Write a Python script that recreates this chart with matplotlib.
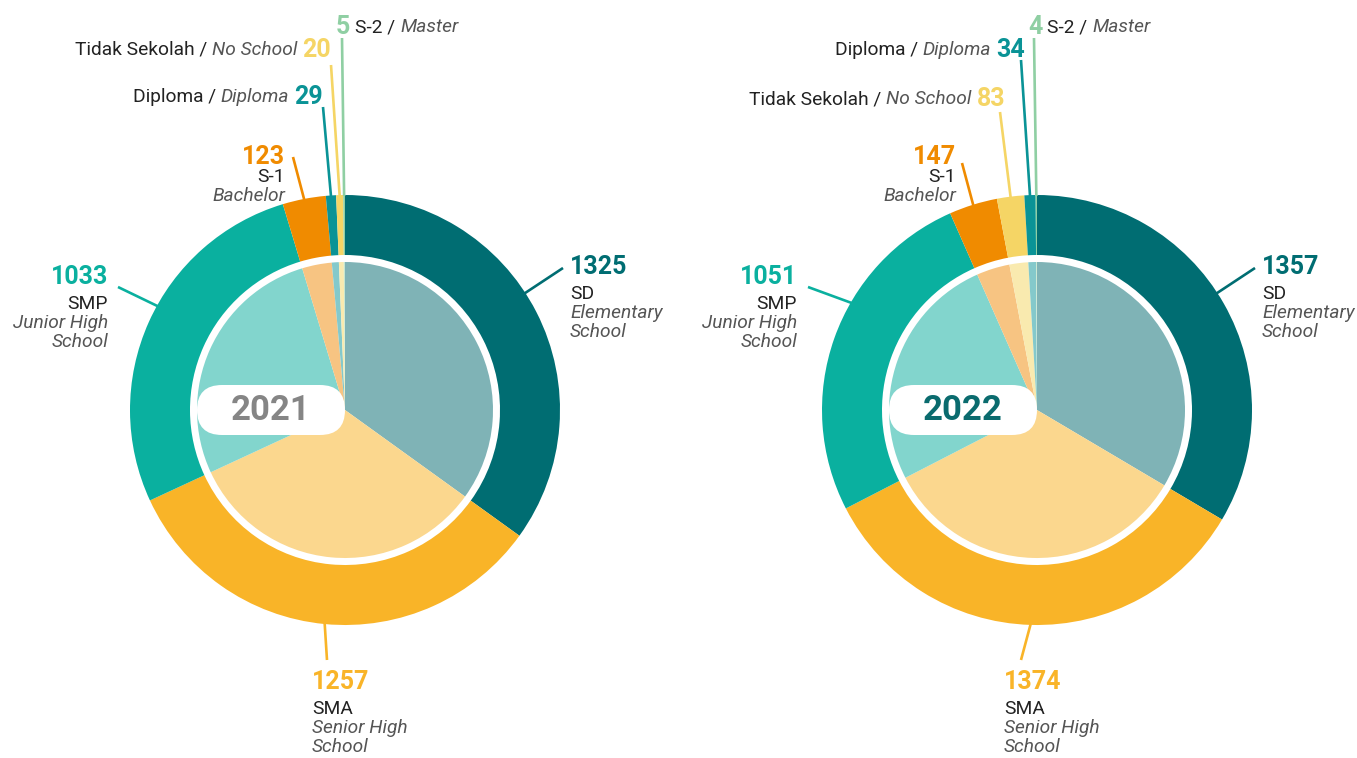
#
# Two donut charts: education level, 2021 vs 2022
#
import matplotlib.pyplot as plt
from matplotlib.patches import FancyBboxPatch
import numpy as np

plt.rcParams['font.family'] = ['Roboto', 'DejaVu Sans']

W, H = 1357, 758

# data (slice order clockwise from 12 o'clock)
cats_2021 = ['SD', 'SMA', 'SMP', 'S-1', 'Diploma', 'Tidak Sekolah', 'S-2']
vals_2021 = [1325, 1257, 1033, 123, 29, 20, 5]
cats_2022 = ['SD', 'SMA', 'SMP', 'S-1', 'Tidak Sekolah', 'Diploma', 'S-2']
vals_2022 = [1357, 1374, 1051, 147, 83, 34, 4]

english = {'SD': 'Elementary\nSchool', 'SMP': 'Junior High\nSchool',
           'SMA': 'Senior High\nSchool', 'S-1': 'Bachelor',
           'Diploma': 'Diploma', 'Tidak Sekolah': 'No School', 'S-2': 'Master'}

outer_col = {'SD': '#006d72', 'SMA': '#f9b428', 'SMP': '#0ab09f', 'S-1': '#f08b00',
             'Diploma': '#0a9396', 'Tidak Sekolah': '#f5d565', 'S-2': '#8fcfa3'}
inner_col = {'SD': '#7fb3b6', 'SMA': '#fbd78e', 'SMP': '#82d5cd', 'S-1': '#f7c482',
             'Diploma': '#84c9cb', 'Tidak Sekolah': '#f9eaaf', 'S-2': '#c6e7d0'}

# layout (pixel coords, y from top)
centers = {2021: (345, 410), 2022: (1037, 410)}
R_OUT, RING_W, R_IN = 215, 60, 148
year_color = {2021: '#858585', 2022: '#0a6b6e'}

# (anchor x, anchor y, ha, leader end x, leader end y, leader start angle or None)
layout_2021 = {
    'SD': (570, 267, 'left', 563, 268, 57),
    'SMA': (312, 682, 'left', 327, 660, None),
    'SMP': (108, 277, 'right', 118, 287, 299),
    'S-1': (285, 157, 'right', 293, 157, None),
    'Diploma': (323, 97, 'right', 323, 107, None),
    'Tidak Sekolah': (331, 50, 'right', 331, 65, None),
    'S-2': (336, 27, 'left', 342, 38, None),
}
layout_2022 = {
    'SD': (1262, 267, 'left', 1255, 268, 57),
    'SMA': (1004, 682, 'left', 1021, 660, None),
    'SMP': (797, 277, 'right', 808, 287, 300),
    'S-1': (956, 157, 'right', 962, 163, None),
    'Tidak Sekolah': (1005, 99, 'right', 1000, 112, None),
    'Diploma': (1025, 50, 'right', 1021, 60, None),
    'S-2': (1028, 27, 'left', 1034, 38, None),
}

fig = plt.figure(figsize=(W / 100, H / 100), dpi=100)
ax = fig.add_axes([0, 0, 1, 1])
renderer = fig.canvas.get_renderer()


def Y(y):
    return H - y


def width_of(t):
    return t.get_window_extent(renderer=renderer).width


def inline_label(x, y, ha, pieces):
    # pieces: list of (text, kwargs); chained left to right
    gap = 5
    if ha == 'left':
        cx = x
        for s, kw in pieces:
            t = ax.text(cx, Y(y), s, ha='left', va='center', **kw)
            cx += width_of(t) + gap
    else:
        cx = x
        for s, kw in reversed(pieces):
            t = ax.text(cx, Y(y), s, ha='right', va='center', **kw)
            cx -= width_of(t) + gap


num_kw = dict(fontsize=18, fontweight='bold')
name_kw = dict(fontsize=13.8, color='#222222')
eng_kw = dict(fontsize=13.8, color='#555555', style='italic')

for year, cats, vals, lay in [(2021, cats_2021, vals_2021, layout_2021),
                              (2022, cats_2022, vals_2022, layout_2022)]:
    cx, cy = centers[year]
    c = (cx, Y(cy))
    ax.pie(vals, radius=R_OUT, center=c, startangle=90, counterclock=False,
           colors=[outer_col[k] for k in cats],
           wedgeprops=dict(width=RING_W, linewidth=0))
    ax.pie(vals, radius=R_IN, center=c, startangle=90, counterclock=False,
           colors=[inner_col[k] for k in cats],
           wedgeprops=dict(linewidth=0))

    total = float(sum(vals))
    cum = np.cumsum([0] + vals)
    for i, k in enumerate(cats):
        lx, ly, ha, ex, ey, ang = lay[k]
        col = outer_col[k]
        if ang is None:
            ang = (cum[i] + vals[i] / 2.0) / total * 360.0
        a = np.radians(ang)
        sx = cx + (R_OUT - 1) * np.sin(a)
        sy = cy - (R_OUT - 1) * np.cos(a)
        ax.plot([sx, ex], [Y(sy), Y(ey)], color=col, lw=1.9,
                solid_capstyle='butt')
        num = str(vals[i])
        if k in ('SD', 'SMA', 'SMP', 'S-1'):
            ax.text(lx, Y(ly), num, ha=ha, va='center', color=col, **num_kw)
            ax.text(lx, Y(ly + 27 if k != 'S-1' else ly + 20), k, ha=ha,
                    va='center', **name_kw)
            for j, line in enumerate(english[k].split('\n')):
                yy = (ly + 46 if k != 'S-1' else ly + 39) + 19 * j
                ax.text(lx, Y(yy), line, ha=ha, va='center', **eng_kw)
        elif k == 'S-2':
            inline_label(lx, ly, 'left',
                         [(num, dict(color=col, **num_kw)),
                          (k + ' /', name_kw), (english[k], eng_kw)])
        else:
            inline_label(lx, ly, 'right',
                         [(k + ' /', name_kw), (english[k], eng_kw),
                          (num, dict(color=col, **num_kw))])

    # year badge
    bx0, bx1, bh = cx - 148, cx, 50
    ax.add_patch(FancyBboxPatch((bx0, Y(cy) - bh / 2), bx1 - bx0, bh,
                                boxstyle='round,pad=0,rounding_size=25',
                                fc='white', ec='none', zorder=5))
    ax.text((bx0 + bx1) / 2, Y(cy), str(year), ha='center', va='center',
            fontsize=25, fontweight='bold', color=year_color[year], zorder=6)

ax.set_xlim(0, W)
ax.set_ylim(0, H)
ax.set_aspect('equal')
ax.axis('off')

plt.savefig('out.png', dpi=100)
